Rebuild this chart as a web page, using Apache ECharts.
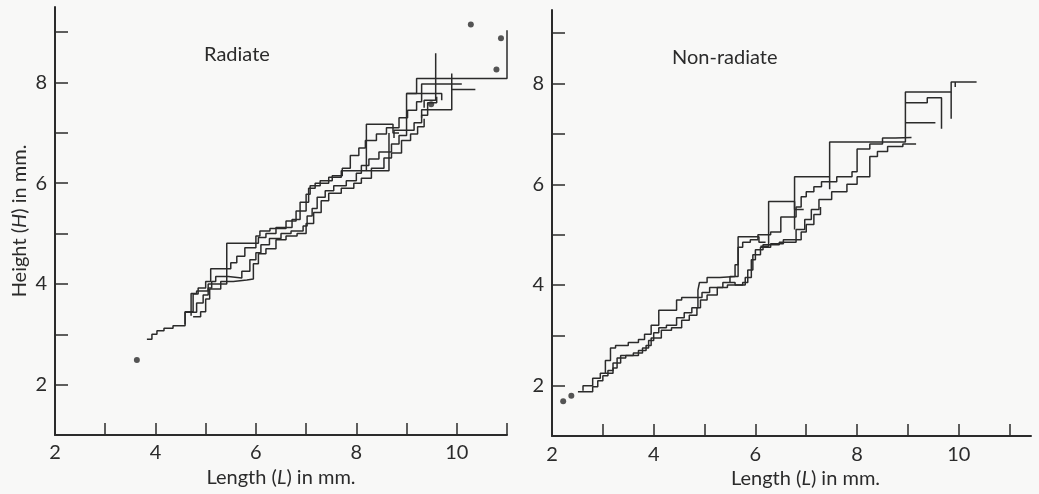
<!DOCTYPE html>
<html>
<head>
<meta charset="utf-8">
<script src="https://cdn.jsdelivr.net/npm/echarts@6/dist/echarts.min.js"></script>
<style>
  html, body { margin: 0; padding: 0; background: #f8f8f7; }
  #chart { width: 1039px; height: 494px; }
</style>
</head>
<body>
<div id="chart"></div>
<script>
// tick / label values
const xTicks = [3, 4, 5, 6, 7, 8, 9, 10, 11];
const xLabels = [2, 4, 6, 8, 10];
const yTicks = [2, 3, 4, 5, 6, 7, 8, 9];
const yLabels = [2, 4, 6, 8];

// Radiate: growth tracks (L, H) in mm
const radA = [[3.83,2.90],[3.93,3.00],[4.03,3.07],[4.17,3.12],[4.35,3.17],[4.59,3.44],[4.82,3.62],[4.95,3.78],[5.05,3.92],[5.12,4.05],[5.2,4.15],[5.45,4.12],[5.72,4.25],[5.88,4.48],[6.0,4.62],[6.1,4.78],[6.27,4.9],[6.5,5.0],[6.7,5.05],[6.94,5.15],[7.02,5.35],[7.12,5.5],[7.22,5.72],[7.38,5.85],[7.55,5.95],[7.8,6.05],[8.0,6.2],[8.1,6.35],[8.25,6.48],[8.45,6.62],[8.7,6.78],[8.85,6.95],[9.0,7.05],[9.15,7.2],[9.3,7.35],[9.42,7.6],[9.6,7.72]];
const radB = [[4.59,3.2],[4.75,3.45],[4.85,3.8],[5.0,3.92],[5.1,4.05],[5.22,4.3],[5.5,4.3],[5.62,4.42],[5.78,4.55],[6.0,4.72],[6.08,4.95],[6.28,5.05],[6.6,5.1],[6.8,5.25],[7.0,5.45],[7.08,5.78],[7.28,5.95],[7.52,6.05],[7.72,6.15],[7.88,6.3],[8.05,6.55],[8.18,6.7],[8.4,6.85],[8.6,6.98],[8.85,7.1],[9.02,7.3],[9.2,7.45],[9.3,7.62],[9.44,7.97],[10.1,7.97]];
const radC = [[4.71,3.37],[4.82,3.81],[5.05,3.86],[5.2,4.0],[5.42,4.0],[6.05,4.81],[6.2,4.92],[6.4,5.0],[6.72,5.12],[6.88,5.28],[7.05,5.62],[7.18,5.9],[7.45,6.0],[7.7,6.12],[7.92,6.25],[8.2,6.25],[8.73,7.17],[8.85,7.0]];
const radD = [[4.75,3.35],[4.9,3.45],[5.0,3.7],[5.08,3.9],[5.3,4.05],[5.55,4.08],[5.82,4.1],[5.95,4.4],[6.05,4.6],[6.2,4.7],[6.4,4.88],[6.6,4.95],[6.82,5.0],[7.0,5.2],[7.15,5.42],[7.3,5.65],[7.45,5.8],[7.7,5.9],[7.95,6.0],[8.1,6.1],[8.3,6.3],[8.55,6.5],[8.7,6.6],[8.9,6.85],[9.08,6.98],[9.22,7.12],[9.35,7.28]];
const radE = [[8.2,6.25],[8.65,6.25],[8.65,7.0]];
const radF = [[8.75,6.9],[9.0,7.05],[9.2,7.78],[11.0,8.08],[11.0,9.04]];
const radG = [[9.35,7.5],[9.58,7.65],[9.58,8.58]];
const radH = [[9.3,7.3],[9.9,7.46],[9.9,8.18],[9.9,7.86],[10.37,7.86]];
const radI = [[9.0,7.78],[9.7,7.78],[9.7,7.65]];
const radDots = [[3.63,2.49],[10.28,9.15],[10.88,8.88],[10.79,8.26],[9.49,7.57]];

// Non-radiate: growth tracks (L, H) in mm
const nonA = [[2.51,1.88],[2.8,1.98],[2.9,2.1],[3.0,2.2],[3.1,2.3],[3.2,2.45],[3.35,2.6],[3.6,2.65],[3.78,2.75],[3.9,2.9],[4.0,3.05],[4.1,3.15],[4.25,3.2],[4.45,3.35],[4.6,3.45],[4.75,3.55],[4.87,3.75],[4.95,3.85],[5.1,3.95],[5.36,4.05],[5.6,4.0],[5.8,4.15],[5.92,4.5],[6.0,4.7],[6.15,4.8],[6.47,4.85],[6.8,5.1],[6.97,5.3],[7.1,5.5],[7.25,5.7],[7.5,5.85],[7.8,6.0],[8.0,6.15],[8.25,6.55],[8.4,6.65],[8.6,6.75],[8.9,6.8],[9.16,6.81]];
const nonB = [[2.61,1.9],[2.8,2.0],[2.95,2.15],[3.05,2.25],[3.15,2.5],[3.25,2.75],[3.5,2.8],[3.7,2.86],[3.82,2.92],[3.95,3.02],[4.1,3.2],[4.2,3.5],[4.45,3.5],[4.55,3.7],[4.87,3.75],[4.9,3.9],[5.05,4.05],[5.3,4.15],[5.6,4.17],[5.66,4.4],[5.75,4.75],[5.9,4.85],[6.05,4.9],[6.3,5.0],[6.5,5.05],[6.8,5.35],[6.9,5.55],[7.0,5.75],[7.15,5.85],[7.3,5.95],[7.6,6.05],[7.9,6.15],[8.0,6.25],[8.25,6.7],[8.5,6.8],[8.75,6.92],[9.07,6.93]];
const nonC = [[3.05,2.25],[3.2,2.35],[3.28,2.55],[3.45,2.6],[3.7,2.7],[3.85,2.8],[3.95,2.95],[4.15,3.1],[4.35,3.15],[4.55,3.3],[4.7,3.4],[4.85,3.55],[4.92,3.7],[5.05,3.8],[5.25,3.95],[5.45,4.0],[5.75,4.05],[5.85,4.3],[5.95,4.6],[6.1,4.75],[6.3,4.82],[6.55,4.9],[6.9,5.05],[7.0,5.2],[7.15,5.4],[7.28,5.55]];
const nonD = [[5.5,4.05],[5.66,4.17],[6.07,4.96],[6.2,4.85]];
const nonE = [[6.1,4.77],[6.26,4.77],[6.77,5.66],[6.95,5.5]];
const nonF = [[6.77,5.1],[7.46,6.15],[8.95,6.84],[9.85,7.83],[10.35,8.03]];
const nonG = [[7.46,5.9],[7.46,6.15]];
const nonH = [[8.95,7.62],[9.38,7.62],[9.38,7.72],[9.66,7.72],[9.66,7.1]];
const nonI = [[8.95,7.22],[9.54,7.22]];
const nonJ = [[9.85,7.3],[9.85,7.83]];
const nonK = [[9.93,8.03],[9.93,7.93]];
const nonDots = [[2.22,1.69],[2.38,1.80]];

const ink = '#2b2b2b';
const font = 'Lato';
const fs = 20;

function track(data, step, idx) {
  return {
    type: 'line', data: data, step: step,
    xAxisIndex: idx, yAxisIndex: idx,
    symbol: 'none', silent: true,
    lineStyle: { color: ink, width: 1.5 }
  };
}
function dots(data, idx) {
  return {
    type: 'scatter', data: data, xAxisIndex: idx, yAxisIndex: idx,
    symbolSize: 6, itemStyle: { color: ink }, silent: true
  };
}

function xAxis(idx, max, nameOffset) {
  return {
    type: 'value', gridIndex: idx, min: 2, max: max,
    name: 'Length ({i|L}) in mm.', nameLocation: 'middle', nameGap: 32,
    nameTextStyle: {
      color: ink, fontFamily: font, fontSize: fs, padding: [0, 0, 0, nameOffset],
      rich: { i: { fontStyle: 'italic', color: ink, fontFamily: font, fontSize: fs } }
    },
    axisLine: { lineStyle: { color: ink, width: 2 } },
    axisTick: { inside: true, length: 12, lineStyle: { color: ink, width: 1.5 }, customValues: xTicks },
    axisLabel: { color: ink, fontFamily: font, fontSize: fs, margin: 8, customValues: xLabels },
    splitLine: { show: false }
  };
}
function yAxis(idx, max, withName) {
  return {
    type: 'value', gridIndex: idx, min: 1, max: max,
    name: withName ? 'Height ({i|H}) in mm.' : '', nameLocation: 'middle', nameGap: 25,
    nameTextStyle: {
      color: ink, fontFamily: font, fontSize: fs,
      rich: { i: { fontStyle: 'italic', color: ink, fontFamily: font, fontSize: fs } }
    },
    axisLine: { lineStyle: { color: ink, width: 2 } },
    axisTick: { inside: true, length: 13, lineStyle: { color: ink, width: 1.5 }, customValues: yTicks },
    axisLabel: { color: ink, fontFamily: font, fontSize: fs, margin: 8, customValues: yLabels },
    splitLine: { show: false }
  };
}

const chart = echarts.init(document.getElementById('chart'));
chart.setOption({
  backgroundColor: '#f8f8f7',
  animation: false,
  title: [
    { text: 'Radiate', left: 199, top: 40, textStyle: { color: ink, fontFamily: font, fontSize: fs, fontWeight: 'normal' } },
    { text: 'Non-radiate', left: 667, top: 43, textStyle: { color: ink, fontFamily: font, fontSize: fs, fontWeight: 'normal' } }
  ],
  grid: [
    { left: 55, top: 7, width: 452, height: 428 },
    { left: 552, top: 10, width: 479, height: 428 }
  ],
  xAxis: [xAxis(0, 11, 0), xAxis(1, 11.42, 28)],
  yAxis: [yAxis(0, 9.5, true), yAxis(1, 9.46, false)],
  series: [
    track(radA, 'end', 0), track(radB, 'start', 0), track(radC, 'start', 0),
    track(radD, 'end', 0), track(radE, 'start', 0), track(radF, 'start', 0),
    track(radG, 'start', 0), track(radH, 'start', 0), track(radI, 'start', 0),
    dots(radDots, 0),
    track(nonA, 'end', 1), track(nonB, 'start', 1), track(nonC, 'end', 1),
    track(nonD, 'start', 1), track(nonE, 'start', 1), track(nonF, 'start', 1),
    track(nonG, 'start', 1), track(nonH, 'start', 1), track(nonI, 'start', 1),
    track(nonJ, 'start', 1), track(nonK, 'start', 1),
    dots(nonDots, 1)
  ]
});
</script>
</body>
</html>
